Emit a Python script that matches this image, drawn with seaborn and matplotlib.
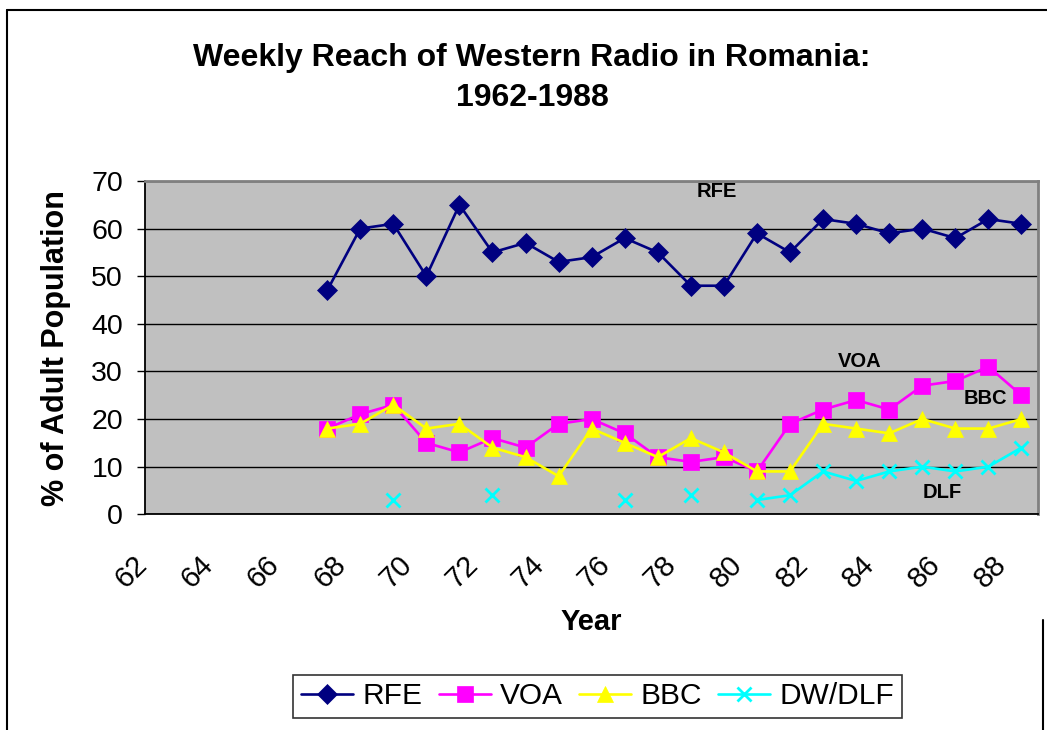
import numpy as np
import pandas as pd
import matplotlib
matplotlib.use("Agg")
import matplotlib.pyplot as plt
import matplotlib.transforms as mtrans
from matplotlib.lines import Line2D
import seaborn as sns

# data (1962-1988, % of adult population)
nan = np.nan
years = list(range(1962, 1989))
year_labels = ["62", "64", "66", "68", "70", "72", "74", "76", "78", "80", "82", "84", "86", "88"]
rfe = [nan, nan, nan, nan, nan, 47, 60, 61, 50, 65, 55, 57, 53, 54, 58, 55, 48, 48, 59, 55, 62, 61, 59, 60, 58, 62, 61]
voa = [nan, nan, nan, nan, nan, 18, 21, 23, 15, 13, 16, 14, 19, 20, 17, 12, 11, 12, 9, 19, 22, 24, 22, 27, 28, 31, 25]
bbc = [nan, nan, nan, nan, nan, 18, 19, 23, 18, 19, 14, 12, 8, 18, 15, 12, 16, 13, 9, 9, 19, 18, 17, 20, 18, 18, 20]
dlf = [nan, nan, nan, nan, nan, nan, nan, 3, nan, nan, 4, nan, nan, nan, 3, nan, 4, nan, 3, 4, 9, 7, 9, 10, 9, 10, 14]

series_names = ["RFE", "VOA", "BBC", "DW/DLF"]
series_values = [rfe, voa, bbc, dlf]
series_colors = ["#000080", "#FF00FF", "#FFFF00", "#00FFFF"]
series_markers = ["D", "s", "^", "x"]
marker_sizes = [10, 11, 12, 10.5]

# in-plot labels
note_text = ["RFE", "VOA", "BBC", "DLF"]
note_x = [1978.8, 1983.1, 1986.9, 1985.6]
note_y = [67.8, 32.0, 24.4, 4.6]

sns.set_style("white")
plt.rcParams["font.family"] = ["Liberation Sans", "DejaVu Sans"]
plt.rcParams["text.color"] = "black"
plt.rcParams["axes.labelcolor"] = "black"
plt.rcParams["xtick.color"] = "black"
plt.rcParams["ytick.color"] = "black"

fig = plt.figure(figsize=(10.47, 7.30), dpi=100)
ax = fig.add_axes([0.1388, 0.2955, 0.8526, 0.4566])
ax.set_facecolor("#C0C0C0")

handles = []
for name, vals, col, mk, ms in zip(series_names, series_values, series_colors, series_markers, marker_sizes):
    s = pd.Series(vals, dtype=float)
    df = pd.DataFrame({"year": years, "value": s.values, "seg": s.isna().cumsum().values}).dropna()
    mew = 2 if mk == "x" else 0.5
    sns.lineplot(data=df, x="year", y="value", units="seg", estimator=None, ax=ax,
                 color=col, linewidth=1.9, marker=mk, markersize=ms, mec=col, mew=mew,
                 legend=False)
    handles.append(Line2D([], [], color=col, lw=1.9, marker=mk, markersize=ms, mec=col, mew=mew))

for t, x, y in zip(note_text, note_x, note_y):
    ax.text(x, y, t, ha="center", va="center", fontsize=14.5, fontweight="bold")

ax.set_ylim(0, 70)
ax.set_yticks(range(0, 71, 10))
ax.set_xlim(1961.5, 1988.5)
ax.set_xticks(years[::2])
ax.set_xticklabels(year_labels)
ax.set_xticks(np.arange(1961.5, 1989), minor=True)
ax.yaxis.grid(True, color="black", lw=1)
ax.set_axisbelow(True)

ax.tick_params(axis="x", which="major", length=0, pad=26, labelsize=21, labelrotation=45)
ax.tick_params(axis="x", which="minor", length=6, width=1, color="black", direction="out")
ax.tick_params(axis="y", length=6, width=1, color="black", direction="out", pad=10, labelsize=20.5, left=True)
off = mtrans.ScaledTranslation(-0.09, 0, fig.dpi_scale_trans)
for lbl in ax.get_xticklabels():
    lbl.set_ha("right")
    lbl.set_transform(lbl.get_transform() + off)

for side in ["left", "bottom"]:
    ax.spines[side].set_color("black")
    ax.spines[side].set_linewidth(1.3)
for side in ["top", "right"]:
    ax.spines[side].set_color("#808080")
    ax.spines[side].set_linewidth(2)

ax.set_xlabel("Year", fontsize=21, fontweight="bold")
ax.xaxis.set_label_coords(0.5, -0.28)
ax.set_ylabel("% of Adult Population", fontsize=22, fontweight="bold")
ax.yaxis.set_label_coords(-0.083, 0.5)

fig.text(532 / 1047, 0.893, "Weekly Reach of Western Radio in Romania:\n1962-1988",
         ha="center", va="center", fontsize=23, fontweight="bold", linespacing=1.45)

leg = fig.legend(handles, series_names, loc="center", bbox_to_anchor=(0.5707, 0.046), ncol=4,
                 frameon=True, fancybox=False, edgecolor="black", fontsize=21.5,
                 handlelength=1.75, handletextpad=0.3, columnspacing=0.55, borderpad=0.25)
leg.get_frame().set_linewidth(1.2)

# chart area border
fig.add_artist(Line2D([7 / 1047, 7 / 1047], [0, 1 - 10 / 730], transform=fig.transFigure, color="black", lw=1.5))
fig.add_artist(Line2D([7 / 1047, 1], [1 - 10 / 730, 1 - 10 / 730], transform=fig.transFigure, color="black", lw=1.5))
fig.add_artist(Line2D([1043 / 1047, 1043 / 1047], [0, 1 - 620 / 730], transform=fig.transFigure, color="black", lw=1.5))

fig.savefig("out.png", dpi=100)
